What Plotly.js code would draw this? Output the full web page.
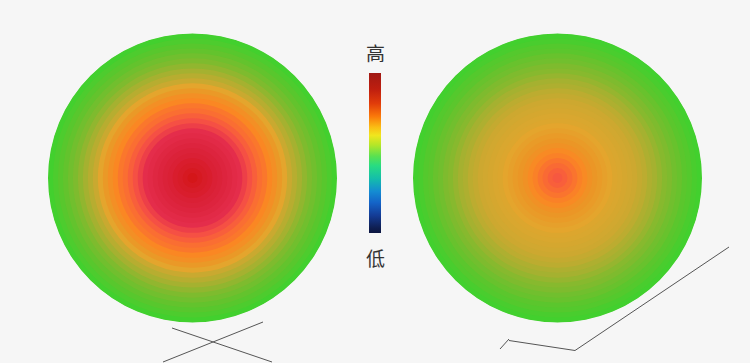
<!DOCTYPE html>
<html>
<head>
<meta charset="utf-8">
<script src="https://cdn.plot.ly/plotly-3.0.1.min.js"></script>
<style>html,body{margin:0;padding:0;background:#f6f6f6;}#chart{width:750px;height:363px;}</style>
</head>
<body>
<div id="chart"></div>
<script>
// Radii (outer edge of each ring) and intensity values
const ringRadius = [145,140,135,130,125,120,115,110,105,100,95,90,85,80,75,70,65,60,55,50,45,40,35,30,25,20,15,10,5];
const leftValues  = [0.00,0.03,0.06,0.09,0.12,0.15,0.19,0.23,0.27,0.31,0.38,0.43,0.47,0.50,0.55,0.58,0.62,0.66,0.71,0.76,0.79,0.82,0.85,0.87,0.89,0.92,0.94,0.97,1.00];
const rightValues = [0.00,0.02,0.05,0.07,0.10,0.12,0.15,0.17,0.20,0.23,0.25,0.28,0.30,0.32,0.33,0.34,0.35,0.36,0.38,0.40,0.42,0.44,0.46,0.49,0.52,0.56,0.59,0.62,0.64];
const topLabel = '高';
const bottomLabel = '低';

const diskScale = [
  [0.00,'rgb(66,208,46)'],[0.08,'rgb(95,196,45)'],[0.16,'rgb(130,186,46)'],
  [0.24,'rgb(170,176,48)'],[0.32,'rgb(205,168,48)'],[0.38,'rgb(228,165,45)'],
  [0.44,'rgb(235,150,38)'],[0.50,'rgb(250,135,35)'],[0.58,'rgb(250,110,50)'],
  [0.66,'rgb(245,80,68)'],[0.76,'rgb(228,45,75)'],[0.86,'rgb(220,35,60)'],
  [1.00,'rgb(212,22,25)']
];
const barScale = [
  [0.00,'rgb(12,22,65)'],[0.03,'rgb(15,30,80)'],[0.11,'rgb(20,60,150)'],
  [0.19,'rgb(20,100,200)'],[0.26,'rgb(20,140,210)'],[0.34,'rgb(20,190,170)'],
  [0.42,'rgb(40,220,130)'],[0.48,'rgb(90,225,80)'],[0.55,'rgb(180,230,40)'],
  [0.61,'rgb(240,230,30)'],[0.66,'rgb(250,190,20)'],[0.73,'rgb(250,120,10)'],
  [0.81,'rgb(225,60,10)'],[0.90,'rgb(190,30,15)'],[1.00,'rgb(160,25,20)']
];

function diskTrace(values, subplot) {
  return {
    type: 'barpolar',
    subplot: subplot,
    r: ringRadius,
    theta: ringRadius.map(() => 0),
    width: ringRadius.map(() => 360),
    base: 0,
    marker: {color: values, colorscale: diskScale, cmin: 0, cmax: 1, line: {width: 0}},
    hoverinfo: 'skip',
    showlegend: false
  };
}

const data = [
  diskTrace(leftValues, 'polar'),
  diskTrace(rightValues, 'polar2'),
  {
    type: 'scatterpolar', subplot: 'polar', r: [0], theta: [0], mode: 'markers',
    marker: {size: 0.1, opacity: 0, color: [0], cmin: 0, cmax: 1, colorscale: barScale, showscale: true,
      colorbar: {x: 0.5, xanchor: 'center', y: 1 - 153/363, yanchor: 'middle', thickness: 12,
        len: 160, lenmode: 'pixels', outlinewidth: 0, showticklabels: false, ticks: '', xpad: 0, ypad: 0}},
    hoverinfo: 'skip', showlegend: false
  }
];

const hiddenRadial = {range: [0, 145.5], visible: false, showgrid: false, showline: false, showticklabels: false, ticks: ''};
const hiddenAngular = {visible: false, showgrid: false, showline: false, showticklabels: false, ticks: ''};
const W = 750, H = 363;
function px(x) { return x / W; }
function py(y) { return 1 - y / H; }
function seg(x0, y0, x1, y1) {
  return {type: 'line', xref: 'paper', yref: 'paper', x0: px(x0), y0: py(y0), x1: px(x1), y1: py(y1),
    line: {color: '#555', width: 1}};
}

const layout = {
  width: W, height: H,
  margin: {l: 0, r: 0, t: 0, b: 0},
  paper_bgcolor: '#f6f6f6',
  plot_bgcolor: 'rgba(0,0,0,0)',
  showlegend: false,
  polar: {domain: {x: [px(47), px(338)], y: [py(323), py(33)]}, bgcolor: 'rgba(0,0,0,0)',
    radialaxis: hiddenRadial, angularaxis: hiddenAngular, hole: 0},
  polar2: {domain: {x: [px(412), px(703)], y: [py(323), py(33)]}, bgcolor: 'rgba(0,0,0,0)',
    radialaxis: hiddenRadial, angularaxis: hiddenAngular, hole: 0},
  annotations: [
    {text: topLabel, xref: 'paper', yref: 'paper', x: px(375), y: py(52), xanchor: 'center', yanchor: 'middle',
      showarrow: false, font: {family: 'Noto Sans CJK SC', size: 19, color: '#333'}},
    {text: bottomLabel, xref: 'paper', yref: 'paper', x: px(375), y: py(257), xanchor: 'center', yanchor: 'middle',
      showarrow: false, font: {family: 'Noto Sans CJK SC', size: 19, color: '#333'}}
  ],
  shapes: [
    seg(172, 328, 272, 362),
    seg(263, 322, 163, 362),
    seg(500, 349, 509, 339),
    seg(509, 340.5, 575, 350.5),
    seg(575, 350.5, 729, 247)
  ]
};

Plotly.newPlot('chart', data, layout, {displayModeBar: false, staticPlot: true});
</script>
</body>
</html>
